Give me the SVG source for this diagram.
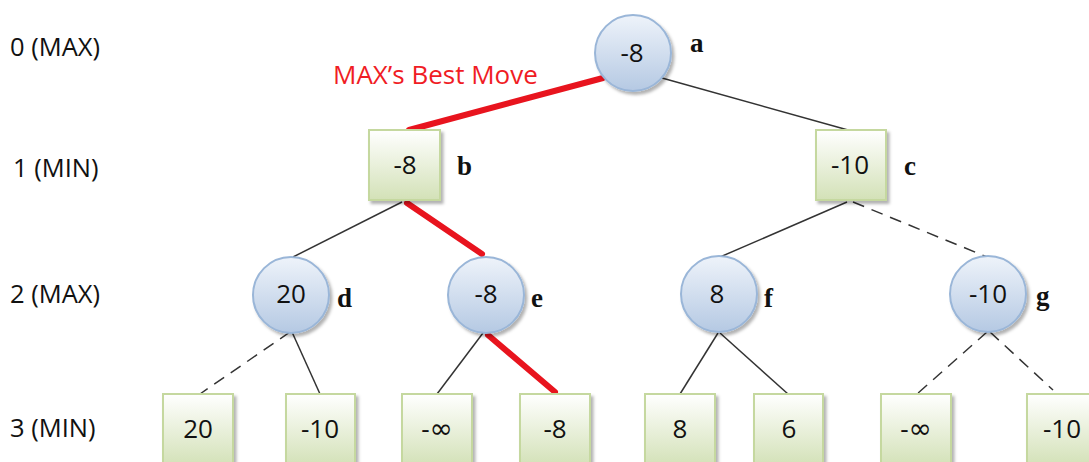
<svg xmlns="http://www.w3.org/2000/svg" width="1089" height="462" viewBox="0 0 1089 462">
<defs>
<linearGradient id="cg" x1="0" y1="0" x2="0" y2="1">
<stop offset="0" stop-color="#eef3fa"/>
<stop offset="1" stop-color="#b5c9e3"/>
</linearGradient>
<linearGradient id="bg" x1="0" y1="0" x2="0" y2="1">
<stop offset="0" stop-color="#ffffff"/>
<stop offset="1" stop-color="#d3e1b7"/>
</linearGradient>
<filter id="sh" x="-20%" y="-20%" width="150%" height="150%">
<feDropShadow dx="2.5" dy="3" stdDeviation="1.5" flood-color="#000" flood-opacity="0.3"/>
</filter>
</defs>
<style>
.lvl{font-family:"Open Sans","Liberation Sans",sans-serif;font-size:25.5px;fill:#111}
.val{font-family:"Open Sans","Liberation Sans",sans-serif;font-size:26px;fill:#111;text-anchor:middle}
.inf{font-family:"DejaVu Sans",sans-serif;font-size:28px}
.lab{font-family:"Liberation Serif","Times New Roman",serif;font-size:27px;font-weight:bold;fill:#111}
.cir{fill:url(#cg);stroke:#9ab6d8;stroke-width:2;filter:url(#sh)}
.box{fill:url(#bg);stroke:#c5d89f;stroke-width:2;filter:url(#sh)}
.ln{stroke:#333;stroke-width:1.5;fill:none}
.dash{stroke-dasharray:12 8}
.red{stroke:#e8141e;stroke-width:6;stroke-linecap:round;fill:none}
</style>
<rect width="1089" height="462" fill="#ffffff"/>
<g id="levels">
<text class="lvl" x="10" y="56">0 (MAX)</text>
<text class="lvl" x="13" y="177">1 (MIN)</text>
<text class="lvl" x="10" y="303">2 (MAX)</text>
<text class="lvl" x="10" y="437">3 (MIN)</text>
</g>
<text x="333" y="84" font-family="Open Sans, Liberation Sans, sans-serif" font-size="26" fill="#f01c24">MAX’s Best Move</text>
<g id="connectors">
<line class="ln" x1="662" y1="78" x2="848" y2="130"/>
<line class="ln" x1="402" y1="202" x2="293" y2="257"/>
<line class="ln" x1="847" y1="202" x2="720" y2="257"/>
<line class="ln dash" x1="853" y1="202" x2="987" y2="257"/>
<line class="ln dash" x1="290" y1="332" x2="200" y2="394"/>
<line class="ln" x1="292" y1="332" x2="320" y2="394"/>
<line class="ln" x1="483" y1="333" x2="437" y2="394"/>
<line class="ln" x1="718" y1="333" x2="680" y2="394"/>
<line class="ln" x1="720" y1="333" x2="788" y2="394"/>
<line class="ln dash" x1="987" y1="332" x2="917" y2="394"/>
<line class="ln dash" x1="990" y1="332" x2="1053" y2="390"/>
<line class="red" x1="603" y1="78" x2="409" y2="130"/>
<line class="red" x1="407" y1="203" x2="482" y2="254"/>
<line class="red" x1="488" y1="335" x2="555" y2="392"/>
</g>
<g id="a"><circle class="cir" cx="633" cy="53" r="38"/><text class="val" x="632" y="62">-8</text><text class="lab" x="690" y="52">a</text></g>
<g id="b"><rect class="box" x="369" y="130" width="71" height="70"/><text class="val" x="405" y="174">-8</text><text class="lab" x="457" y="175">b</text></g>
<g id="c"><rect class="box" x="816" y="130" width="70" height="70"/><text class="val" x="850" y="174">-10</text><text class="lab" x="904" y="175">c</text></g>
<g id="d"><circle class="cir" cx="291" cy="295" r="38"/><text class="val" x="291" y="303">20</text><text class="lab" x="337" y="307">d</text></g>
<g id="e"><circle class="cir" cx="486" cy="295" r="38"/><text class="val" x="486" y="303">-8</text><text class="lab" x="531" y="307">e</text></g>
<g id="f"><circle class="cir" cx="719" cy="294" r="38"/><text class="val" x="717" y="303">8</text><text class="lab" x="764" y="307">f</text></g>
<g id="g"><circle class="cir" cx="988" cy="294" r="38"/><text class="val" x="988" y="303">-10</text><text class="lab" x="1036" y="305">g</text></g>
<g id="l1"><rect class="box" x="163" y="394" width="70" height="72"/><text class="val" x="198" y="438">20</text></g>
<g id="l2"><rect class="box" x="286" y="394" width="69" height="72"/><text class="val" x="320" y="438">-10</text></g>
<g id="l3"><rect class="box" x="402" y="394" width="70" height="72"/><text class="val" x="437" y="438">-<tspan class="inf">∞</tspan></text></g>
<g id="l4"><rect class="box" x="520" y="394" width="70" height="72"/><text class="val" x="555" y="438">-8</text></g>
<g id="l5"><rect class="box" x="645" y="394" width="70" height="72"/><text class="val" x="680" y="438">8</text></g>
<g id="l6"><rect class="box" x="754" y="394" width="69" height="72"/><text class="val" x="789" y="438">6</text></g>
<g id="l7"><rect class="box" x="881" y="394" width="70" height="72"/><text class="val" x="916" y="438">-<tspan class="inf">∞</tspan></text></g>
<g id="l8"><rect class="box" x="1027" y="394" width="70" height="72"/><text class="val" x="1062" y="438">-10</text></g>
</svg>
